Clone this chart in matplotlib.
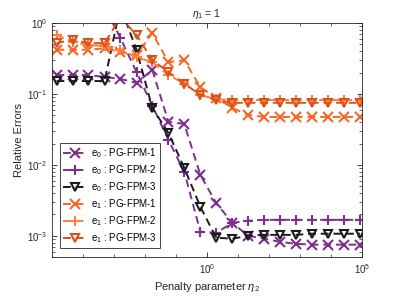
import matplotlib.pyplot as plt
from matplotlib.ticker import LogLocator, NullFormatter, FixedLocator

plt.rcParams['font.family'] = ['Liberation Sans', 'DejaVu Sans']
plt.rcParams['mathtext.fontset'] = 'custom'
plt.rcParams['mathtext.rm'] = 'Liberation Sans'
plt.rcParams['mathtext.it'] = 'Liberation Sans:italic'

# penalty parameter eta_2 (log10 exponents)
eta2_exp = [-4.85, -4.33, -3.82, -3.30, -2.79, -2.27, -1.76, -1.24, -0.73, -0.21,
            0.30, 0.82, 1.33, 1.85, 2.36, 2.88, 3.39, 3.91, 4.42, 4.94]
eta2 = [10 ** e for e in eta2_exp]

# relative errors
e0_fpm1 = [0.185, 0.185, 0.185, 0.173, 0.163, 0.143, 0.218, 0.0403, 0.0378, 0.0072,
           0.0029, 0.00152, 0.00100, 0.00091, 0.00082, 0.00077, 0.00075, 0.00075, 0.00075, 0.00075]
e0_fpm2 = [2.0, 2.0, 2.0, 1.7, 0.615, 0.204, 0.068, 0.0225, 0.0080, 0.00114,
           0.00110, 0.00152, 0.00163, 0.00168, 0.00168, 0.00168, 0.00168, 0.00168, 0.00168, 0.00168]
e0_fpm3 = [0.152, 0.152, 0.152, 0.152, 1.7, 0.42, 0.0635, 0.0282, 0.0091, 0.00256,
           0.00094, 0.00091, 0.00100, 0.00103, 0.00103, 0.00103, 0.00107, 0.00107, 0.00107, 0.00107]
e1_fpm1 = [0.42, 0.42, 0.42, 0.44, 0.39, 0.354, 0.72, 0.28, 0.30, 0.125,
           0.088, 0.0635, 0.0506, 0.0474, 0.0474, 0.0474, 0.0474, 0.0474, 0.0474, 0.0474]
e1_fpm2 = [0.68, 0.54, 0.49, 0.47, 0.42, 0.33, 0.28, 0.185, 0.14, 0.097,
           0.084, 0.082, 0.082, 0.082, 0.082, 0.082, 0.082, 0.082, 0.082, 0.082]
e1_fpm3 = [0.52, 0.58, 0.52, 0.52, 1.2, 0.68, 0.30, 0.204, 0.14, 0.097,
           0.082, 0.075, 0.075, 0.075, 0.075, 0.075, 0.075, 0.075, 0.075, 0.075]

purple = '#7E2F8E'
black = '#1a1a1a'
orange_x = '#F5682A'
orange_p = '#FF7F3F'
orange_v = '#D95319'

series = [
    (e0_fpm1, purple, 'x', 'e$_0$ : PG-FPM-1'),
    (e0_fpm2, purple, '+', 'e$_0$ : PG-FPM-2'),
    (e0_fpm3, black, 'v', 'e$_0$ : PG-FPM-3'),
    (e1_fpm1, orange_x, 'x', 'e$_1$ : PG-FPM-1'),
    (e1_fpm2, orange_p, '+', 'e$_1$ : PG-FPM-2'),
    (e1_fpm3, orange_v, 'v', 'e$_1$ : PG-FPM-3'),
]

fig = plt.figure(figsize=(3.99, 2.99), dpi=100)
ax = fig.add_axes([0.130, 0.140, 0.777, 0.783])

for vals, col, mk, lab in series:
    ax.plot(eta2, vals, linestyle='--', dashes=(4, 2.5), color=col, marker=mk,
            markersize=7 if mk != 'v' else 6, markeredgewidth=1.5,
            markerfacecolor='none', linewidth=1.4, label=lab)

ax.set_xscale('log')
ax.set_yscale('log')
ax.set_xlim(1e-5, 1e5)
ax.set_ylim(5e-4, 1)

ax.xaxis.set_major_locator(FixedLocator([1, 1e5]))
ax.xaxis.set_minor_locator(FixedLocator([10.0 ** k for k in range(-4, 5)]))
ax.xaxis.set_minor_formatter(NullFormatter())
ax.yaxis.set_major_locator(FixedLocator([1e-3, 1e-2, 1e-1, 1]))
ax.yaxis.set_minor_locator(LogLocator(base=10, subs=range(2, 10)))
ax.yaxis.set_minor_formatter(NullFormatter())

ax.tick_params(which='both', direction='in', top=True, right=True,
               labelsize=7, colors='#262626')
ax.tick_params(which='major', length=3.5, width=0.6)
ax.tick_params(which='minor', length=2, width=0.5)
for sp in ax.spines.values():
    sp.set_color('#262626')
    sp.set_linewidth(0.6)

ax.set_title(r'$\eta_1$ = 1', fontsize=7.5, color='#262626', pad=4)
ax.set_xlabel(r'Penalty parameter $\eta_2$', fontsize=8, color='#262626', labelpad=3)
ax.set_ylabel('Relative Errors', fontsize=8, color='#262626', labelpad=2)

leg = ax.legend(loc='lower left', bbox_to_anchor=(0.026, 0.038), borderaxespad=0,
                fontsize=7, fancybox=False, edgecolor='#262626', framealpha=1,
                handlelength=2.3, handletextpad=0.5, labelspacing=0.32,
                borderpad=0.35)
leg.get_frame().set_linewidth(0.6)

fig.savefig('out.png', dpi=100)
